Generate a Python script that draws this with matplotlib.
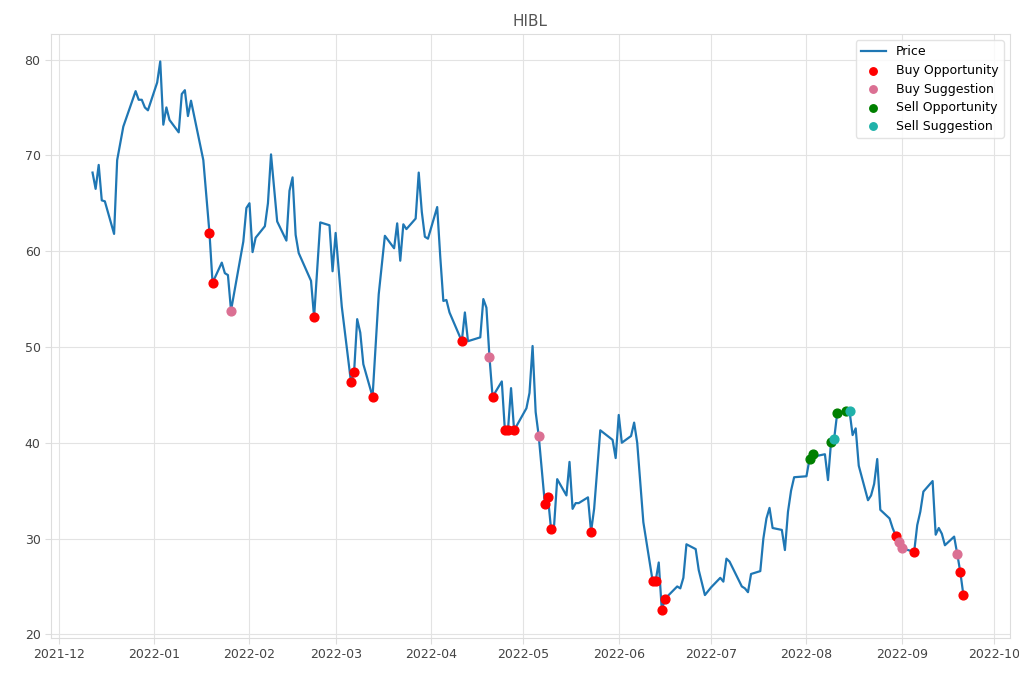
import pandas as pd
import matplotlib
matplotlib.use("Agg")
import matplotlib.pyplot as plt

ticker = "HIBL"

dates = [
    "2021-12-12", "2021-12-13", "2021-12-14", "2021-12-15", "2021-12-16", "2021-12-19",
    "2021-12-20", "2021-12-22", "2021-12-26", "2021-12-27", "2021-12-28", "2021-12-29",
    "2021-12-30", "2022-01-02", "2022-01-03", "2022-01-04", "2022-01-05", "2022-01-06",
    "2022-01-09", "2022-01-10", "2022-01-11", "2022-01-12", "2022-01-13", "2022-01-17",
    "2022-01-19", "2022-01-20", "2022-01-23", "2022-01-24", "2022-01-25", "2022-01-26",
    "2022-01-30", "2022-01-31", "2022-02-01", "2022-02-02", "2022-02-03", "2022-02-06",
    "2022-02-07", "2022-02-08", "2022-02-10", "2022-02-13", "2022-02-14", "2022-02-15",
    "2022-02-16", "2022-02-17", "2022-02-21", "2022-02-22", "2022-02-24", "2022-02-27",
    "2022-02-28", "2022-03-01", "2022-03-03", "2022-03-06", "2022-03-07", "2022-03-08",
    "2022-03-09", "2022-03-10", "2022-03-13", "2022-03-15", "2022-03-17", "2022-03-20",
    "2022-03-21", "2022-03-22", "2022-03-23", "2022-03-24", "2022-03-27", "2022-03-28",
    "2022-03-29", "2022-03-30", "2022-03-31", "2022-04-03", "2022-04-04", "2022-04-05",
    "2022-04-06", "2022-04-07", "2022-04-11", "2022-04-12", "2022-04-13", "2022-04-17",
    "2022-04-18", "2022-04-19", "2022-04-20", "2022-04-21", "2022-04-24", "2022-04-25",
    "2022-04-26", "2022-04-27", "2022-04-28", "2022-05-02", "2022-05-03", "2022-05-04",
    "2022-05-05", "2022-05-06", "2022-05-08", "2022-05-09", "2022-05-10", "2022-05-11",
    "2022-05-12", "2022-05-15", "2022-05-16", "2022-05-17", "2022-05-18", "2022-05-19",
    "2022-05-22", "2022-05-23", "2022-05-24", "2022-05-26", "2022-05-30", "2022-05-31",
    "2022-06-01", "2022-06-02", "2022-06-05", "2022-06-06", "2022-06-07", "2022-06-09",
    "2022-06-12", "2022-06-13", "2022-06-14", "2022-06-15", "2022-06-16", "2022-06-20",
    "2022-06-21", "2022-06-22", "2022-06-23", "2022-06-26", "2022-06-27", "2022-06-29",
    "2022-07-01", "2022-07-04", "2022-07-05", "2022-07-06", "2022-07-07", "2022-07-11",
    "2022-07-12", "2022-07-13", "2022-07-14", "2022-07-17", "2022-07-18", "2022-07-19",
    "2022-07-20", "2022-07-21", "2022-07-24", "2022-07-25", "2022-07-26", "2022-07-27",
    "2022-07-28", "2022-08-01", "2022-08-02", "2022-08-03", "2022-08-04", "2022-08-07",
    "2022-08-08", "2022-08-09", "2022-08-10", "2022-08-11", "2022-08-14", "2022-08-15",
    "2022-08-16", "2022-08-17", "2022-08-18", "2022-08-21", "2022-08-22", "2022-08-23",
    "2022-08-24", "2022-08-25", "2022-08-28", "2022-08-29", "2022-08-30", "2022-08-31",
    "2022-09-01", "2022-09-05", "2022-09-06", "2022-09-07", "2022-09-08", "2022-09-11",
    "2022-09-12", "2022-09-13", "2022-09-14", "2022-09-15", "2022-09-18", "2022-09-19",
    "2022-09-20", "2022-09-21",
]

prices = [
    68.2, 66.5, 69.0, 65.3, 65.2, 61.8,
    69.5, 73.0, 76.7, 75.8, 75.8, 75.0,
    74.7, 77.6, 79.8, 73.2, 75.0, 73.7,
    72.4, 76.4, 76.8, 74.1, 75.7, 69.5,
    61.9, 56.7, 58.8, 57.7, 57.5, 53.8,
    61.0, 64.5, 65.0, 59.9, 61.4, 62.6,
    65.0, 70.1, 63.1, 61.1, 66.3, 67.7,
    61.7, 59.8, 56.9, 53.1, 63.0, 62.7,
    57.9, 61.9, 54.2, 46.3, 47.4, 52.9,
    51.5, 48.2, 44.8, 55.5, 61.6, 60.3,
    62.9, 59.0, 62.8, 62.3, 63.4, 68.2,
    64.1, 61.5, 61.3, 64.6, 59.4, 54.8,
    54.9, 53.6, 50.6, 53.6, 50.6, 51.0,
    55.0, 54.1, 48.9, 44.8, 46.4, 41.3,
    41.3, 45.7, 41.3, 43.6, 45.2, 50.1,
    43.2, 40.7, 33.6, 34.3, 31.0, 31.4,
    36.2, 34.5, 38.0, 33.1, 33.7, 33.7,
    34.3, 30.7, 33.1, 41.3, 40.3, 38.4,
    42.9, 40.0, 40.7, 42.1, 40.0, 31.7,
    25.6, 25.6, 27.5, 22.5, 23.7, 25.0,
    24.8, 25.9, 29.4, 28.9, 26.7, 24.1,
    24.9, 25.9, 25.5, 27.9, 27.6, 25.0,
    24.8, 24.4, 26.3, 26.6, 30.0, 32.1,
    33.2, 31.1, 30.9, 28.8, 32.8, 35.0,
    36.4, 36.5, 38.3, 38.8, 38.6, 38.8,
    36.1, 40.1, 40.4, 43.1, 43.3, 43.3,
    40.8, 41.5, 37.6, 34.0, 34.5, 35.7,
    38.3, 33.0, 32.1, 31.1, 30.3, 29.6,
    29.0, 28.6, 31.4, 32.8, 34.9, 36.0,
    30.4, 31.1, 30.5, 29.3, 30.2, 28.4,
    26.5, 24.1,
]

buy_opportunity = [
    "2022-01-19", "2022-01-20", "2022-02-22", "2022-03-06", "2022-03-07", "2022-03-13",
    "2022-04-11", "2022-04-21", "2022-04-25", "2022-04-26", "2022-04-28", "2022-05-08",
    "2022-05-09", "2022-05-10", "2022-05-23", "2022-06-12", "2022-06-13", "2022-06-15",
    "2022-06-16", "2022-08-30", "2022-09-05", "2022-09-20", "2022-09-21",
]
buy_suggestion = ["2022-01-26", "2022-04-20", "2022-05-06", "2022-08-31", "2022-09-01", "2022-09-19"]
sell_opportunity = ["2022-08-02", "2022-08-03", "2022-08-09", "2022-08-11", "2022-08-14"]
sell_suggestion = ["2022-08-10", "2022-08-15"]

price = pd.Series(prices, index=pd.to_datetime(dates))

plt.rcParams["font.family"] = "DejaVu Sans"
fig, ax = plt.subplots(figsize=(10.2, 6.8), dpi=100)
fig.subplots_adjust(left=0.05, right=0.99, top=0.95, bottom=0.062)

ax.plot(price.index, price.values, color="#1f77b4", linewidth=1.6, label="Price")

groups = [
    (buy_opportunity, "red", "Buy Opportunity"),
    (buy_suggestion, "palevioletred", "Buy Suggestion"),
    (sell_opportunity, "green", "Sell Opportunity"),
    (sell_suggestion, "lightseagreen", "Sell Suggestion"),
]
for days, col, name in groups:
    idx = pd.to_datetime(days)
    ax.scatter(idx, price.loc[idx].values, color=col, s=40, zorder=3, label=name)

ax.set_xlim(pd.Timestamp("2021-11-28 12:00"), pd.Timestamp("2022-10-06 02:00"))
ax.set_title(ticker, color="#555555", fontsize=11)
ax.grid(True, color="#e3e3e3", linewidth=0.8)
ax.set_axisbelow(True)
for sp in ax.spines.values():
    sp.set_color("#dddddd")
ax.tick_params(colors="#dddddd", labelcolor="#444444", labelsize=9, length=4)
ax.legend(loc="upper right", fontsize=9, frameon=True, edgecolor="#dddddd",
          markerscale=0.85, borderpad=0.4, labelspacing=0.45)

fig.savefig("out.png", dpi=100)
